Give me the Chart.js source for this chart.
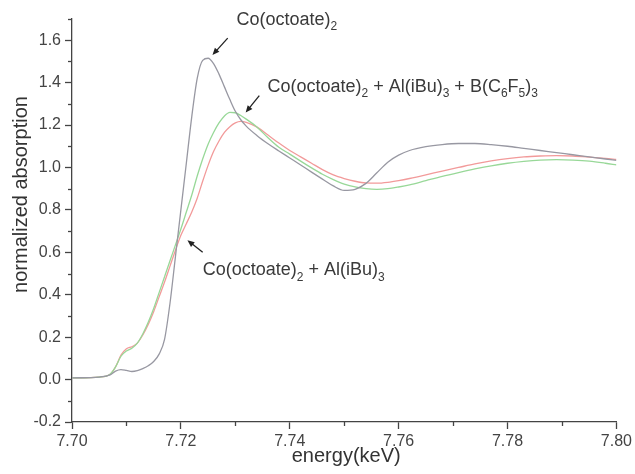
<!DOCTYPE html>
<html>
<head>
<meta charset="utf-8">
<script src="https://cdn.jsdelivr.net/npm/chart.js@4"></script>
<style>
html,body{margin:0;padding:0;background:#fff;}
#wrap{width:635px;height:474px;position:relative;}
</style>
</head>
<body>
<div id="wrap"><canvas id="c" width="635" height="474"></canvas></div>
<script>
// ---- data ----
const energy = [7.700,7.705,7.707,7.708,7.709,7.710,7.711,7.712,7.713,7.714,7.715,7.716,7.717,7.718,7.719,7.720,7.721,7.722,7.723,7.724,7.725,7.726,7.727,7.728,7.729,7.730,7.731,7.732,7.734,7.736,7.738,7.740,7.742,7.744,7.746,7.748,7.750,7.752,7.754,7.756,7.758,7.760,7.762,7.765,7.768,7.771,7.774,7.777,7.780,7.783,7.786,7.789,7.792,7.795,7.798,7.800];
const coOctoate = [0.008,0.012,0.022,0.040,0.047,0.043,0.038,0.042,0.052,0.065,0.085,0.12,0.19,0.36,0.58,0.80,1.02,1.24,1.42,1.505,1.515,1.49,1.44,1.38,1.32,1.265,1.225,1.195,1.15,1.112,1.078,1.045,1.012,0.978,0.945,0.913,0.892,0.897,0.925,0.975,1.025,1.058,1.08,1.098,1.108,1.113,1.113,1.108,1.10,1.09,1.08,1.07,1.06,1.05,1.04,1.033];
const coAlB = [0.008,0.012,0.025,0.06,0.11,0.135,0.148,0.172,0.215,0.27,0.335,0.41,0.485,0.56,0.635,0.71,0.79,0.87,0.96,1.04,1.11,1.165,1.21,1.243,1.26,1.258,1.245,1.228,1.19,1.14,1.095,1.063,1.03,0.998,0.968,0.943,0.922,0.908,0.9,0.897,0.9,0.908,0.918,0.938,0.958,0.976,0.993,1.008,1.02,1.029,1.035,1.037,1.035,1.03,1.02,1.012];
const coAl = [0.008,0.012,0.025,0.06,0.115,0.145,0.155,0.172,0.21,0.26,0.32,0.39,0.46,0.535,0.61,0.68,0.735,0.79,0.855,0.935,1.01,1.075,1.125,1.165,1.192,1.21,1.217,1.213,1.19,1.153,1.115,1.08,1.05,1.02,0.99,0.965,0.948,0.935,0.927,0.926,0.93,0.938,0.948,0.965,0.983,1.0,1.017,1.031,1.042,1.05,1.054,1.056,1.054,1.049,1.043,1.038];
const xTicks = [7.70,7.72,7.74,7.76,7.78,7.80];
const xMinorTicks = [7.71,7.73,7.75,7.77,7.79];
const yTicks = [-0.2,0.0,0.2,0.4,0.6,0.8,1.0,1.2,1.4,1.6];
const yMinorTicks = [-0.1,0.1,0.3,0.5,0.7,0.9,1.1,1.3,1.5,1.7];
const xTitle = 'energy(keV)';
const yTitle = 'normalized absorption';
// annotation text runs: [text, isSubscript]
const note1 = [['Co(octoate)',0],['2',1]];
const note2 = [['Co(octoate)',0],['2',1],[' + Al(iBu)',0],['3',1],[' + B(C',0],['6',1],['F',0],['5',1],[')',0],['3',1]];
const note3 = [['Co(octoate)',0],['2',1],[' + Al(iBu)',0],['3',1]];

// ---- layout / style ----
const FONT = '"Liberation Sans", Arial, sans-serif';
const notes = [
  {runs: note1, x: 7.7302, y: 1.695, ax0: 7.7286, ay0: 1.61, ax1: 7.7258, ay1: 1.53},
  {runs: note2, x: 7.7359, y: 1.38,  ax0: 7.7344, ay0: 1.339, ax1: 7.7319, ay1: 1.259},
  {runs: note3, x: 7.7240, y: 0.515, ax0: 7.7240, ay0: 0.60, ax1: 7.7212, ay1: 0.657}
];

function pts(ys){ return energy.map((e,i)=>({x:e,y:ys[i]})); }

const extras = {
  id:'extras',
  afterDraw(chart){
    const ctx = chart.ctx, xs = chart.scales.x, ys = chart.scales.y;
    const a = chart.chartArea;
    ctx.save();
    ctx.strokeStyle = '#444'; ctx.lineWidth = 1.3;
    // minor ticks
    yMinorTicks.forEach(v=>{ const py = Math.round(ys.getPixelForValue(v))+0.5;
      ctx.beginPath(); ctx.moveTo(a.left-4,py); ctx.lineTo(a.left,py); ctx.stroke(); });
    xMinorTicks.forEach(v=>{ const px = Math.round(xs.getPixelForValue(v))+0.5;
      ctx.beginPath(); ctx.moveTo(px,a.bottom); ctx.lineTo(px,a.bottom+4); ctx.stroke(); });
    // axis titles
    ctx.fillStyle = '#333'; ctx.font = '20px '+FONT;
    ctx.textAlign = 'center'; ctx.textBaseline = 'alphabetic';
    ctx.fillText(xTitle, (a.left+a.right)/2 + 2, 462);
    ctx.save();
    ctx.translate(27, (a.top+a.bottom)/2 - 26);
    ctx.rotate(-Math.PI/2);
    ctx.fillText(yTitle, 0, 0);
    ctx.restore();
    // annotations
    notes.forEach(n=>{
      let px = xs.getPixelForValue(n.x), py = ys.getPixelForValue(n.y);
      ctx.fillStyle = '#3a3a3a'; ctx.textBaseline = 'middle'; ctx.textAlign='left';
      n.runs.forEach(([t,sub])=>{
        ctx.font = sub ? '12px '+FONT : '18px '+FONT;
        const yy = sub ? py+7 : py;
        ctx.fillText(t, px, yy);
        px += ctx.measureText(t).width;
      });
      // arrow
      const x0 = xs.getPixelForValue(n.ax0), y0 = ys.getPixelForValue(n.ay0);
      const x1 = xs.getPixelForValue(n.ax1), y1 = ys.getPixelForValue(n.ay1);
      const ang = Math.atan2(y1-y0, x1-x0);
      ctx.strokeStyle = '#222'; ctx.lineWidth = 1.3;
      ctx.beginPath(); ctx.moveTo(x0,y0); ctx.lineTo(x1-5*Math.cos(ang), y1-5*Math.sin(ang)); ctx.stroke();
      ctx.fillStyle = '#222';
      ctx.beginPath();
      ctx.moveTo(x1,y1);
      ctx.lineTo(x1-7*Math.cos(ang)+3*Math.sin(ang), y1-7*Math.sin(ang)-3*Math.cos(ang));
      ctx.lineTo(x1-7*Math.cos(ang)-3*Math.sin(ang), y1-7*Math.sin(ang)+3*Math.cos(ang));
      ctx.closePath(); ctx.fill();
    });
    ctx.restore();
  }
};

new Chart(document.getElementById('c'), {
  type: 'line',
  data: {
    datasets: [
      {label:'Co(octoate)2', data: pts(coOctoate), borderColor:'#9898a2', borderWidth:1.3},
      {label:'Co(octoate)2 + Al(iBu)3 + B(C6F5)3', data: pts(coAlB), borderColor:'#98d898', borderWidth:1.3},
      {label:'Co(octoate)2 + Al(iBu)3', data: pts(coAl), borderColor:'#f29a9a', borderWidth:1.3}
    ]
  },
  options: {
    responsive:false, animation:false,
    layout:{padding:{top:19,right:17,left:0,bottom:0}},
    elements:{point:{radius:0}, line:{tension:0.4, cubicInterpolationMode:'monotone'}},
    plugins:{legend:{display:false}, tooltip:{enabled:false}},
    scales:{
      x:{type:'linear', min:7.70, max:7.80,
        afterBuildTicks(s){ s.ticks = xTicks.map(v=>({value:v})); },
        afterFit(s){ s.height = 52; },
        border:{display:true,color:'#444',width:1.3},
        grid:{drawOnChartArea:false, drawTicks:true, tickLength:7, tickColor:'#444', tickWidth:1.3},
        ticks:{color:'#444', font:{family:FONT,size:16}, padding:3, maxRotation:0,
          callback:(v)=>Number(v).toFixed(2)},
        title:{display:false}
      },
      y:{type:'linear', min:-0.2, max:1.7,
        afterBuildTicks(s){ s.ticks = yTicks.map(v=>({value:v})); },
        afterFit(s){ s.width = 72; },
        border:{display:true,color:'#444',width:1.3},
        grid:{drawOnChartArea:false, drawTicks:true, tickLength:7, tickColor:'#444', tickWidth:1.3},
        ticks:{color:'#444', font:{family:FONT,size:16}, padding:4,
          callback:(v)=>Number(v).toFixed(1)},
        title:{display:false}
      }
    }
  },
  plugins:[extras]
});
</script>
</body>
</html>
